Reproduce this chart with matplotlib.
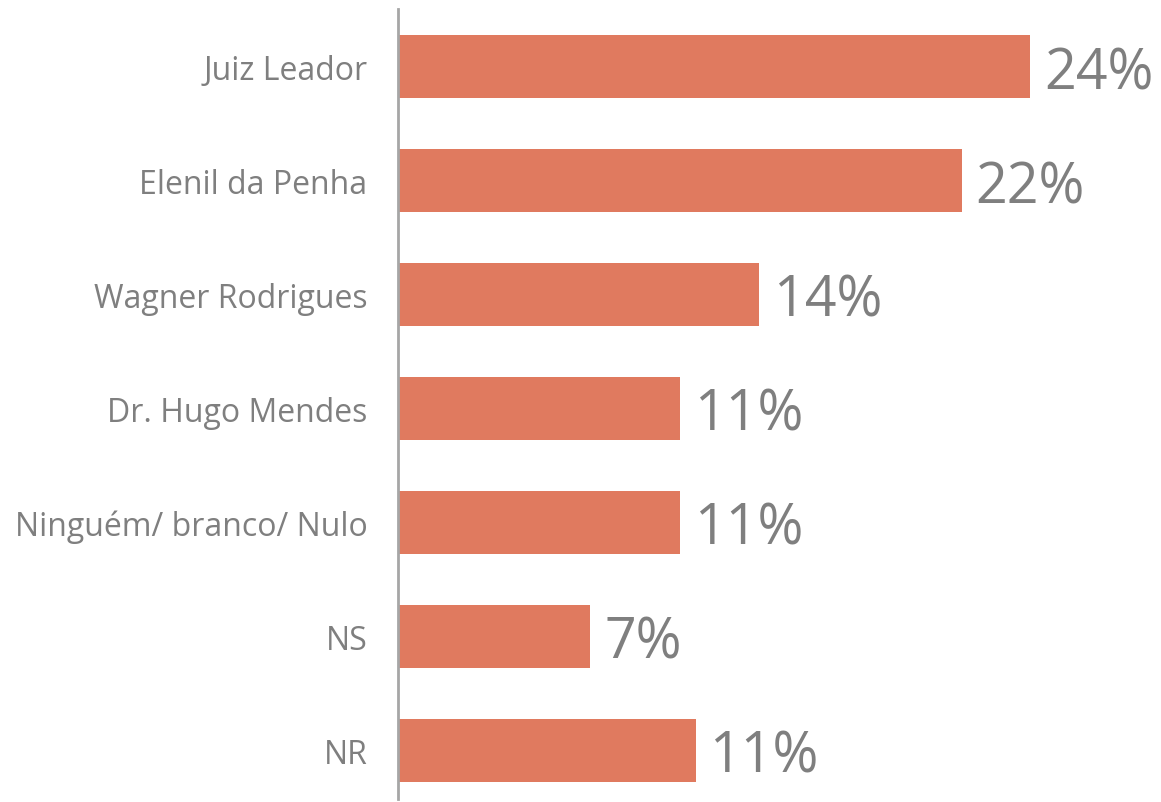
import matplotlib
matplotlib.use("Agg")
import matplotlib.pyplot as plt

categories = ["Juiz Leador", "Elenil da Penha", "Wagner Rodrigues", "Dr. Hugo Mendes",
              "Ninguém/ branco/ Nulo", "NS", "NR"]
values = [24.0, 21.4, 13.7, 10.7, 10.7, 7.3, 11.3]
value_labels = ["24%", "22%", "14%", "11%", "11%", "7%", "11%"]

bar_color = "#E07A5F"
text_color = "#7F7F7F"
axis_color = "#A6A6A6"

W, H = 1161, 803
fig = plt.figure(figsize=(W / 100, H / 100), dpi=100)
ax = fig.add_axes([398 / W, (H - 800) / H, (W - 398) / W, (800 - 10) / H])

y = list(range(len(categories)))
ax.barh(y, values, height=0.55, color=bar_color)
ax.set_ylim(6 + 48.5 / 114, -57.5 / 114)
ax.set_xlim(0, (W - 398) / (632 / 24.0))

for yi, v, lab in zip(y, values, value_labels):
    ax.annotate(lab, (v, yi), xytext=(10, 0), textcoords="offset points",
                ha="left", va="center_baseline", fontsize=40, color=text_color,
                family="Open Sans")

ax.set_yticks(y)
ax.set_yticklabels(categories, fontsize=23, color=text_color, family="Open Sans")
ax.tick_params(axis="y", length=0, pad=22)
ax.set_xticks([])
for s in ["top", "right", "bottom"]:
    ax.spines[s].set_visible(False)
ax.spines["left"].set_color(axis_color)
ax.spines["left"].set_linewidth(2)

fig.savefig("out.png", dpi=100)
